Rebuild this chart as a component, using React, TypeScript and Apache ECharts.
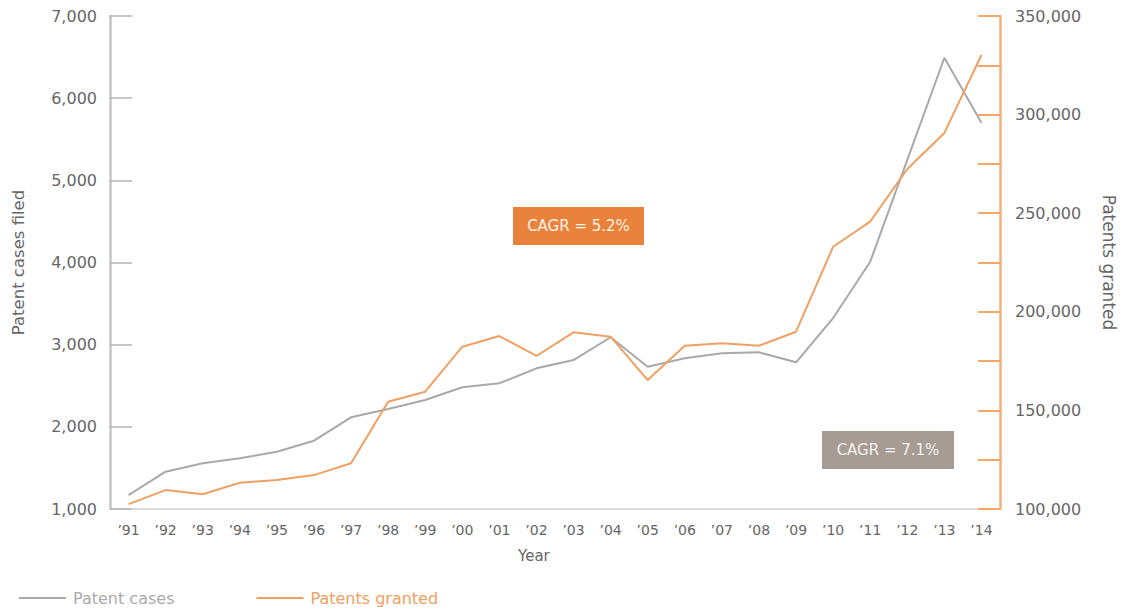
import React, { useEffect, useRef } from "react";
import * as echarts from "echarts";

const years = ["’91","’92","’93","’94","’95","’96","’97","’98","’99","’00","’01","’02","’03","’04","’05","’06","’07","’08","’09","’10","’11","’12","’13","’14"];
const patentCases = [1170,1454,1556,1617,1697,1831,2116,2217,2327,2481,2530,2712,2813,3090,2732,2834,2895,2907,2785,3324,4010,5250,6492,5700];
const patentsGranted = [102500,109600,107500,113300,114700,117200,123200,154400,159500,182300,187700,177600,189600,187400,165400,182800,184000,182800,189900,233000,245700,272400,290700,330200];

const GRAY = "#a9a9a9";
const ORANGE = "#f0a062";
const FONT = "DejaVu Sans, Verdana, sans-serif";
const LABEL = "#666666";

export default function App() {
  const ref = useRef<HTMLDivElement>(null);
  useEffect(() => {
    if (!ref.current) return;
    const chart = echarts.init(ref.current, null, { renderer: "svg" });
    chart.setOption({
      animation: false,
      backgroundColor: "#ffffff",
      textStyle: { fontFamily: FONT },
      grid: { left: 110, right: 123, top: 16, bottom: 100, containLabel: false, outerBoundsMode: "none" },
      legend: {
        left: 14,
        top: 585,
        itemGap: 82,
        itemWidth: 47,
        itemHeight: 2,
        icon: "rect",
        textStyle: { fontFamily: FONT, fontSize: 16, padding: [0, 0, 0, 2] },
        data: [
          { name: "Patent cases", textStyle: { color: "#aaaaaa" } },
          { name: "Patents granted", textStyle: { color: "#f0a060" } },
        ],
      },
      xAxis: {
        type: "category",
        data: years,
        boundaryGap: true,
        axisLine: { lineStyle: { color: "#cfcfcf", width: 1.5 } },
        axisTick: { inside: true, length: 9, lineStyle: { color: "#777" } },
        axisLabel: { color: LABEL, fontSize: 14, margin: 14, fontFamily: FONT },
      },
      yAxis: [
        {
          type: "value",
          min: 1000,
          max: 7000,
          interval: 1000,
          position: "left",
          name: "Patent cases filed",
          nameLocation: "middle",
          nameGap: 83,
          nameRotate: 90,
          nameTextStyle: { color: LABEL, fontSize: 16.5, fontFamily: FONT },
          splitLine: { show: false },
          axisLine: { show: true, lineStyle: { color: "#c4c4c4", width: 2.5 } },
          axisTick: { show: true, inside: true, length: 22, lineStyle: { color: "#b5b5b5", width: 1.5 } },
          axisLabel: {
            color: LABEL,
            fontSize: 16,
            margin: 13,
            fontFamily: FONT,
            formatter: (v: number) => v.toLocaleString("en-US"),
          },
        },
        {
          type: "value",
          min: 100000,
          max: 350000,
          interval: 25000,
          position: "right",
          name: "Patents granted",
          nameLocation: "middle",
          nameGap: 100,
          nameRotate: -90,
          nameTextStyle: { color: LABEL, fontSize: 17, fontFamily: FONT },
          splitLine: { show: false },
          axisLine: { show: true, lineStyle: { color: "#f3b07a", width: 2.5 } },
          axisTick: { show: true, inside: true, length: 22, lineStyle: { color: "#f3a86a", width: 2 } },
          axisLabel: {
            color: LABEL,
            fontSize: 16,
            margin: 15,
            fontFamily: FONT,
            formatter: (v: number) => (v % 50000 === 0 ? v.toLocaleString("en-US") : ""),
          },
        },
      ],
      series: [
        {
          name: "Patent cases",
          type: "line",
          yAxisIndex: 0,
          data: patentCases,
          showSymbol: false,
          symbol: "none",
          lineStyle: { color: GRAY, width: 2 },
          itemStyle: { color: GRAY },
          z: 2,
        },
        {
          name: "Patents granted",
          type: "line",
          yAxisIndex: 1,
          data: patentsGranted,
          showSymbol: false,
          symbol: "none",
          lineStyle: { color: ORANGE, width: 2 },
          itemStyle: { color: ORANGE },
          z: 3,
        },
      ],
      graphic: [
        {
          type: "text",
          left: 518,
          top: 548,
          style: { text: "Year", fill: LABEL, font: `15px ${FONT}` },
        },
        {
          type: "group",
          left: 513,
          top: 207,
          children: [
            { type: "rect", shape: { x: 0, y: 0, width: 131, height: 38 }, style: { fill: "#e8823c" } },
            {
              type: "text",
              x: 65.5,
              y: 19,
              style: { text: "CAGR = 5.2%", fill: "#fff3ea", font: `15px ${FONT}`, align: "center", verticalAlign: "middle" },
            },
          ],
        },
        {
          type: "group",
          left: 822,
          top: 431,
          children: [
            { type: "rect", shape: { x: 0, y: 0, width: 132, height: 38 }, style: { fill: "#a69c93" } },
            {
              type: "text",
              x: 66,
              y: 19,
              style: { text: "CAGR = 7.1%", fill: "#f4f1ee", font: `15px ${FONT}`, align: "center", verticalAlign: "middle" },
            },
          ],
        },
      ],
    });
    return () => chart.dispose();
  }, []);
  return <div ref={ref} style={{ position: "fixed", left: 0, top: 0, width: 1123, height: 609 }} />;
}
